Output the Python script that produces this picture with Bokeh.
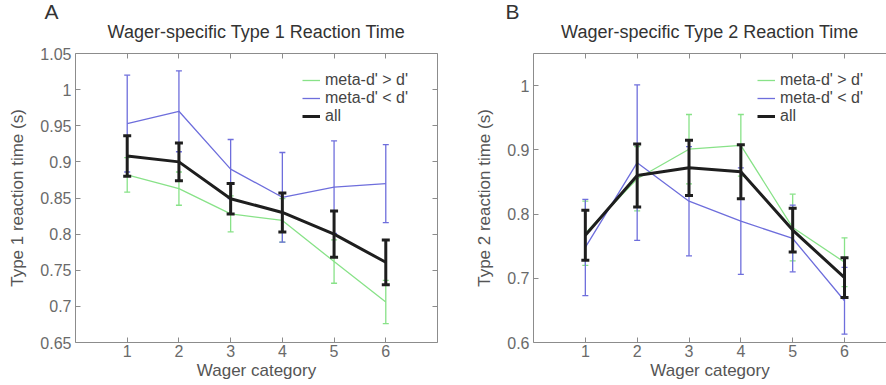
from bokeh.plotting import figure
from bokeh.models import Range1d, LinearAxis, FixedTicker, Title
from bokeh.layouts import row
from bokeh.embed import file_html
from bokeh.resources import INLINE

# ---------------- data ----------------
wager = [1, 2, 3, 4, 5, 6]
wager_labels = ["1", "2", "3", "4", "5", "6"]

# Panel A: Type 1 reaction time (s)
a_meta_gt = [0.882, 0.863, 0.828, 0.819, 0.762, 0.706]
a_meta_gt_err = [0.024, 0.023, 0.025, 0.030, 0.030, 0.030]
a_meta_lt = [0.953, 0.970, 0.890, 0.851, 0.865, 0.870]
a_meta_lt_err = [0.067, 0.056, 0.041, 0.062, 0.064, 0.054]
a_all = [0.908, 0.900, 0.849, 0.830, 0.800, 0.761]
a_all_err = [0.028, 0.026, 0.021, 0.027, 0.032, 0.031]
a_yticks = [0.65, 0.7, 0.75, 0.8, 0.85, 0.9, 0.95, 1.0, 1.05]
a_ytick_labels = ["0.65", "0.7", "0.75", "0.8", "0.85", "0.9", "0.95", "1", "1.05"]

# Panel B: Type 2 reaction time (s)
b_meta_gt = [0.770, 0.855, 0.901, 0.907, 0.779, 0.725]
b_meta_gt_err = [0.050, 0.050, 0.054, 0.048, 0.052, 0.038]
b_meta_lt = [0.748, 0.880, 0.820, 0.789, 0.762, 0.665]
b_meta_lt_err = [0.075, 0.121, 0.085, 0.083, 0.052, 0.052]
b_all = [0.767, 0.860, 0.872, 0.866, 0.775, 0.701]
b_all_err = [0.039, 0.049, 0.043, 0.042, 0.034, 0.031]
b_yticks = [0.6, 0.7, 0.8, 0.9, 1.0]
b_ytick_labels = ["0.6", "0.7", "0.8", "0.9", "1"]

series_names = ["meta-d' > d'", "meta-d' < d'", "all"]

FONT = "Liberation Sans"
GREEN = "#88e288"
BLUE = "#6e6edc"
BLACK = "#1e1e1e"
AX = "#8c8c8c"
TXT = "#6a6a6a"
H = 385
TOP = 53
BOTTOM = 43


def panel(title, title_off, letter, letter_off, ylabel, y0, y1, yticks, ylabels,
          x_end, series, width, min_left, min_right, right_box, legend_loc):
    p = figure(width=width, height=H, x_range=Range1d(0, x_end),
               y_range=Range1d(y0, y1), output_backend="svg",
               toolbar_location=None, min_border_left=min_left,
               min_border_right=min_right, min_border_top=TOP,
               min_border_bottom=BOTTOM, background_fill_color="white",
               border_fill_color="white")
    p.grid.visible = False
    p.outline_line_color = None

    tick_map = {t: l for t, l in zip(yticks, ylabels)}
    xt_map = {t: l for t, l in zip(wager, wager_labels)}

    for ax in [p.xaxis[0], p.yaxis[0]]:
        ax.axis_line_color = AX
        ax.major_tick_line_color = AX
        ax.major_tick_in = 5
        ax.major_tick_out = 0
        ax.minor_tick_line_color = None
        ax.major_label_text_font = FONT
        ax.major_label_text_font_size = "16px"
        ax.major_label_text_color = TXT
        ax.axis_label_text_font = FONT
        ax.axis_label_text_font_size = "17px"
        ax.axis_label_text_font_style = "normal"
        ax.axis_label_text_color = "#555555"
    p.xaxis.ticker = FixedTicker(ticks=wager)
    p.xaxis.major_label_overrides = xt_map
    p.xaxis.axis_label = "Wager category"
    p.xaxis.major_label_standoff = 2
    p.xaxis.axis_label_standoff = 1
    p.yaxis.ticker = FixedTicker(ticks=yticks)
    p.yaxis.major_label_overrides = tick_map
    p.yaxis.axis_label = ylabel
    p.yaxis.major_label_standoff = 4
    p.yaxis.axis_label_standoff = 10

    top = LinearAxis(ticker=FixedTicker(ticks=wager), axis_line_color=AX,
                     major_tick_line_color=AX, major_tick_in=5,
                     major_tick_out=0, minor_tick_line_color=None,
                     major_label_overrides={t: "" for t in wager},
                     major_label_standoff=0)
    p.add_layout(top, "above")
    if right_box:
        rgt = LinearAxis(ticker=FixedTicker(ticks=yticks), axis_line_color=AX,
                         major_tick_line_color=AX, major_tick_in=5,
                         major_tick_out=0, minor_tick_line_color=None,
                         major_label_overrides={t: "" for t in yticks},
                         major_label_standoff=0)
        p.add_layout(rgt, "right")

    styles = [(GREEN, 1.3, 6), (BLUE, 1.3, 6), (BLACK, 3.0, 8)]
    for (vals, errs), name, (col, lw, cap) in zip(series, series_names, styles):
        lo = [v - e for v, e in zip(vals, errs)]
        hi = [v + e for v, e in zip(vals, errs)]
        p.segment(x0=wager, y0=lo, x1=wager, y1=hi, line_color=col, line_width=lw)
        p.scatter(x=wager, y=hi, marker="dash", size=cap, line_color=col, line_width=lw)
        p.scatter(x=wager, y=lo, marker="dash", size=cap, line_color=col, line_width=lw)
        p.line(x=wager, y=vals, line_color=col, line_width=lw, legend_label=name)

    lg = p.legend[0]
    lg.location = legend_loc
    lg.margin = 0
    lg.padding = 3
    lg.spacing = 0
    lg.border_line_color = None
    lg.background_fill_alpha = 0
    lg.label_text_font = FONT
    lg.label_text_font_size = "16px"
    lg.label_text_color = "#444444"
    lg.glyph_width = 18
    lg.glyph_height = 16
    lg.label_height = 16
    lg.label_standoff = 5

    p.add_layout(Title(text=title, align="center", offset=title_off, standoff=23,
                       text_font=FONT, text_font_size="18px",
                       text_font_style="normal", text_color="#333333"), "above")
    p.add_layout(Title(text=letter, align="left", offset=letter_off, standoff=-29,
                       text_font=FONT, text_font_size="21px",
                       text_font_style="normal", text_color="#333333"), "above")
    return p


pa = panel("Wager-specific Type 1 Reaction Time", 0, "A", -31,
           "Type 1 reaction time (s)", 0.65, 1.05, a_yticks, a_ytick_labels, 7.0,
           [(a_meta_gt, a_meta_gt_err), (a_meta_lt, a_meta_lt_err), (a_all, a_all_err)],
           453, 75, 16, True, (227, 217))

pb = panel("Wager-specific Type 2 Reaction Time", 5, "B", -28,
           "Type 2 reaction time (s)", 0.6, 1.05, b_yticks, b_ytick_labels, 6.81,
           [(b_meta_gt, b_meta_gt_err), (b_meta_lt, b_meta_lt_err), (b_all, b_all_err)],
           433, 80, 0, False, (224, 217))

layout = row(pa, pb, spacing=0)
open("out.html", "w").write(file_html(layout, INLINE))
